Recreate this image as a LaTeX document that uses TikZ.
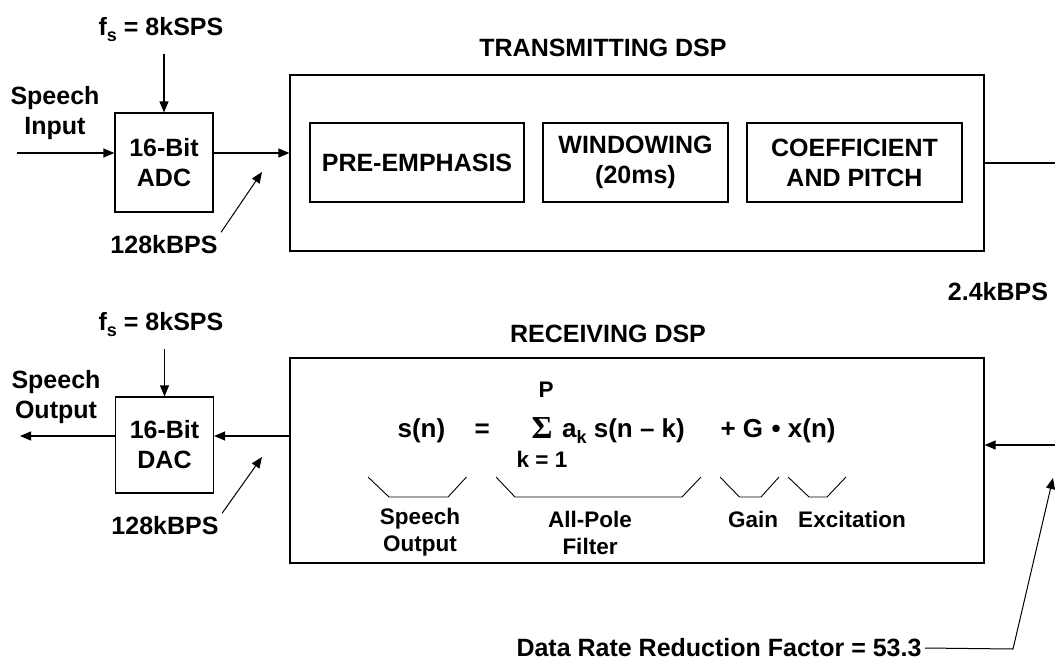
\documentclass[tikz,border=0pt]{standalone}
\usepackage{fontspec}
\setmainfont{Liberation Sans}
\newfontfamily\symbfont{Liberation Serif}
\usetikzlibrary{arrows.meta}

\newcommand\bigtxt{\fontsize{25}{30}\selectfont\bfseries}
\newcommand\eqtxt{\fontsize{26}{30}\selectfont\bfseries}
\newcommand\smalltxt{\fontsize{22.5}{27}\selectfont\bfseries}
\newcommand\lowsub[1]{\raisebox{-6pt}{\fontsize{18}{18}\selectfont #1}}

\tikzset{
  lbl/.style={font=\bigtxt, align=center, inner sep=3pt},
  tag/.style={font=\smalltxt, align=center, inner sep=0pt},
  eqn/.style={font=\eqtxt, anchor=base west, inner sep=0pt},
  dspbox/.style={draw, minimum width=694, inner sep=0pt},
  conv/.style={draw, font=\bigtxt, align=center, minimum width=98, inner sep=0pt},
  stage/.style={draw, font=\bigtxt, align=center, minimum height=79, inner sep=0pt},
  bkt/.style={line width=0.9pt},
  ptr/.style={line width=1pt, ->}
}

\begin{document}
\begin{tikzpicture}[x=1pt, y=-1pt, line width=1.2pt, >={Triangle[length=11pt,width=9pt]}]
\useasboundingbox (0,0) rectangle (1055,665);

% transmitting side
\node[lbl] (fsA) at (161,30) {f\lowsub{s} = 8kSPS};
\node[lbl] (spin) at (55,113) {Speech\\Input};
\node[conv, minimum height=99] (adc) at (164,162.5) {16-Bit\\ADC};
\node[dspbox, minimum height=176] (tx) at (637,163) {};
\node[lbl] (txt) at (603,48) {TRANSMITTING DSP};
\node[stage, minimum width=214] (pre) at (417,162.5) {PRE-EMPHASIS};
\node[stage, minimum width=185] (win) at (635.5,162.5) {WINDOWING\\(20ms)};
\node[stage, minimum width=215] (coef) at (854.5,162.5) {COEFFICIENT\\AND PITCH};
\node[lbl] (rateA) at (164,245) {128kBPS};

\coordinate (inA) at (17,153);
\coordinate (tipA) at (262,172);
\coordinate (txo) at (1055,163);
\draw[->] (inA) -- (inA -| adc.west);
\draw[->] (adc.east |- inA) -- (tx.west |- inA);
\draw[->, shorten <=8pt] (fsA.south -| adc.north) -- (adc.north);
\draw[ptr] (rateA.north east) -- (tipA);
\draw (tx.east) -- (txo);

\node[lbl] (rate24) at (998,292) {2.4kBPS};

% receiving side
\node[lbl] (fsB) at (161,325) {f\lowsub{s} = 8kSPS};
\node[lbl] (spout) at (56,397) {Speech\\Output};
\node[conv, minimum height=96] (dac) at (164.5,445) {16-Bit\\DAC};
\node[dspbox, minimum height=205] (rx) at (637,460.5) {};
\node[lbl] (rxt) at (608,334) {RECEIVING DSP};
\node[lbl] (rateB) at (165,526) {128kBPS};

\coordinate (outB) at (20,436);
\coordinate (tipB) at (262,457);
\coordinate (rxi) at (1055,445);
\draw[->] (rxi) -- (rxi -| rx.east);
\draw[->] (rx.west |- outB) -- (dac.east |- outB);
\draw[->] (dac.west |- outB) -- (outB);
\draw[->, shorten <=8pt] (fsB.south -| dac.north) -- (dac.north);
\draw[ptr] (rateB.north east) -- (tipB);

% the model
\node[eqn] (sn) at (397,437) {s(n)};
\node[eqn] (eq) at (474,437) {=};
\node[eqn, font=\symbfont\fontsize{32}{32}\selectfont\bfseries] (sig) at (531,438) {Σ};
\node[tag] (pp) at (546,390) {P};
\node[tag] (kk) at (542,459) {k = 1};
\node[eqn] (ak) at (561.5,437) {a\lowsub{k} s(n – k)};
\node[eqn] (gg) at (720,437) {+ G};
\node[eqn] (xn) at (771,437) {• x(n)};

\foreach \a/\b/\c/\d in {368/389/448/466.5, 496/515/682/701, 720/739.5/761/779, 788/809/827/846}
  \draw[bkt] (\a,477) -- (\b,497) -- (\c,497) -- (\d,477);

\node[tag] (lsp) at (420,532.5) {Speech\\Output};
\node[tag] (lap) at (590,532.5) {All-Pole\\Filter};
\node[tag] (lg) at (753,519) {Gain};
\node[tag] (lex) at (852,519) {Excitation};

% reduction
\node[lbl] (drf) at (719,648) {Data Rate Reduction Factor = 53.3};
\coordinate (knee) at (1013,649);
\coordinate (tipC) at (1053,478);
\draw[ptr] (drf.east) -- (knee) -- (tipC);
\end{tikzpicture}
\end{document}
